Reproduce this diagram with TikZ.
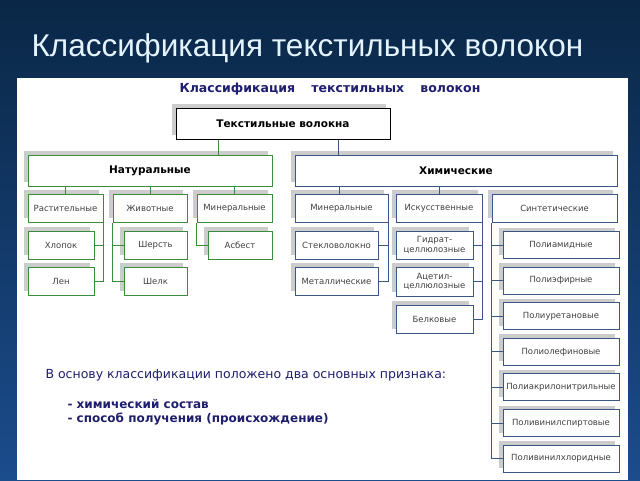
\documentclass[tikz,border=0pt]{standalone}
\usepackage{fontspec}
\setmainfont{DejaVu Sans}
\newfontfamily\titlefont{Liberation Sans}
\usetikzlibrary{shadows}

\definecolor{slidetop}{HTML}{0A2746}
\definecolor{slidebot}{HTML}{1B4C8C}
\definecolor{titletext}{HTML}{E4F4FF}
\definecolor{navytext}{HTML}{1E1E6E}
\definecolor{natgreen}{HTML}{3A8C3A}
\definecolor{chemblue}{HTML}{3A5682}

\tikzset{
  box/.style={draw, fill=white, line width=1pt, inner sep=0pt, align=center,
    text=black!75, font=\fontsize{8.5}{9.5}\selectfont,
    general shadow={shadow xshift=-4pt, shadow yshift=4pt, fill=black!20}},
  natbox/.style={box, draw=natgreen},
  chembox/.style={box, draw=chemblue},
  natline/.style={draw=natgreen, line width=1pt},
  chemline/.style={draw=chemblue, line width=1pt}
}

\begin{document}
\begin{tikzpicture}[x=1pt, y=-1pt]
  \useasboundingbox (0, 0) rectangle (640, 480);
  \shade[top color=slidetop, bottom color=slidebot] (0, 0) rectangle (640, 480);
  \fill[white] (17, 78) rectangle (628, 480);

  \node[anchor=west, text=titletext, font=\titlefont\fontsize{31.5}{38}\selectfont] (T) at (28, 48) {Классификация текстильных волокон};
  \node[text=navytext, font=\bfseries\fontsize{12.5}{14}\selectfont] (H) at (330, 89) {Классификация\hspace{12pt} текстильных\hspace{12pt} волокон};

  % top levels
  \node[box, draw=black, text=black, font=\bfseries\fontsize{10.5}{12}\selectfont, minimum width=214, minimum height=31] (R) at (283, 123.5) {Текстильные волокна};
  \node[natbox, text=black, font=\bfseries\fontsize{10.5}{12}\selectfont, minimum width=244, minimum height=31] (N) at (150, 170.5) {Натуральные};
  \node[chembox, text=black, font=\bfseries\fontsize{10.5}{12}\selectfont, minimum width=322, minimum height=31] (C) at (456, 170.5) {Химические};

  \draw[natline] ([xshift=-65]R.south) -- ([xshift=-65]R.south |- N.north);
  \draw[chemline] ([xshift=55]R.south) -- ([xshift=55]R.south |- C.north);

  % natural
  \node[natbox, minimum width=75, minimum height=28] (N1) at (65.5, 208) {Растительные};
  \node[natbox, minimum width=74, minimum height=28] (N2) at (150, 208) {Животные};
  \node[natbox, minimum width=75, minimum height=28] (N3) at (234.5, 208) {Минеральные};

  \draw[natline] (N1.north) -- (N1.north |- N.south);
  \draw[natline] (N2.north) -- (N2.north |- N.south);
  \draw[natline] (N3.north) -- (N3.north |- N.south);

  \node[natbox, minimum width=66, minimum height=28] (N11) at (61, 245) {Хлопок};
  \node[natbox, minimum width=66, minimum height=28] (N12) at (61, 281) {Лен};
  \node[natbox, minimum width=63, minimum height=28] (N21) at (155.5, 245) {Шерсть};
  \node[natbox, minimum width=63, minimum height=28] (N22) at (155.5, 281) {Шелк};
  \node[natbox, minimum width=64, minimum height=28] (N31) at (240, 245) {Асбест};

  \draw[natline] (N1.south east) |- (N12.east);
  \draw[natline] (N11.east) -- (N11.east -| N1.east);
  \draw[natline] (N2.south west) |- (N22.west);
  \draw[natline] (N21.west) -- (N21.west -| N2.west);
  \draw[natline] (N3.south west) |- (N31.west);

  % chemical
  \node[chembox, minimum width=93, minimum height=28] (C1) at (341.5, 208) {Минеральные};
  \node[chembox, minimum width=86, minimum height=28] (C2) at (439, 208) {Искусственные};
  \node[chembox, minimum width=125, minimum height=28] (C3) at (554.5, 208) {Синтетические};

  \draw[chemline] ([xshift=-2.5]C1.north) -- ([xshift=-2.5]C1.north |- C.south);
  \draw[chemline] (C2.north) -- (C2.north |- C.south);

  \node[chembox, minimum width=83, minimum height=28] (C11) at (336.5, 245) {Стекловолокно};
  \node[chembox, minimum width=83, minimum height=28] (C12) at (336.5, 281) {Металлические};

  \draw[chemline] (C1.south east) |- (C12.east);
  \draw[chemline] (C11.east) -- (C11.east -| C1.east);

  \node[chembox, minimum width=77, minimum height=28] (C21) at (434.5, 245) {Гидрат-\\целлюлозные};
  \node[chembox, minimum width=77, minimum height=29] (C22) at (434.5, 281.5) {Ацетил-\\целлюлозные};
  \node[chembox, minimum width=77, minimum height=28] (C23) at (434.5, 319) {Белковые};

  \draw[chemline] (C2.south east) |- (C23.east);
  \draw[chemline] (C21.east) -- (C21.east -| C2.east);
  \draw[chemline] (C22.east) -- (C22.east -| C2.east);

  \node[chembox, minimum width=116, minimum height=27] (C31) at (561, 245) {Полиамидные};
  \node[chembox, minimum width=116, minimum height=27] (C32) at (561, 280.6) {Полиэфирные};
  \node[chembox, minimum width=116, minimum height=27] (C33) at (561, 316.2) {Полиуретановые};
  \node[chembox, minimum width=116, minimum height=27] (C34) at (561, 351.8) {Полиолефиновые};
  \node[chembox, minimum width=116, minimum height=27] (C35) at (561, 387.4) {Полиакрилонитрильные};
  \node[chembox, minimum width=116, minimum height=27] (C36) at (561, 423) {Поливинилспиртовые};
  \node[chembox, minimum width=116, minimum height=27] (C37) at (561, 458.6) {Поливинилхлоридные};

  \draw[chemline] (C3.south west) |- (C37.west);
  \draw[chemline] (C31.west) -- (C31.west -| C3.west);
  \draw[chemline] (C32.west) -- (C32.west -| C3.west);
  \draw[chemline] (C33.west) -- (C33.west -| C3.west);
  \draw[chemline] (C34.west) -- (C34.west -| C3.west);
  \draw[chemline] (C35.west) -- (C35.west -| C3.west);
  \draw[chemline] (C36.west) -- (C36.west -| C3.west);

  % notes
  \node[anchor=west, text=navytext, font=\fontsize{12.5}{14}\selectfont] (B0) at (42, 375) {В основу классификации положено два основных признака:};
  \node[anchor=west, text=navytext, font=\bfseries\fontsize{12}{14}\selectfont] (B1) at (64, 404) {- химический состав};
  \node[anchor=west, text=navytext, font=\bfseries\fontsize{12}{14}\selectfont] (B2) at (64, 419) {- способ получения (происхождение)};
\end{tikzpicture}
\end{document}
